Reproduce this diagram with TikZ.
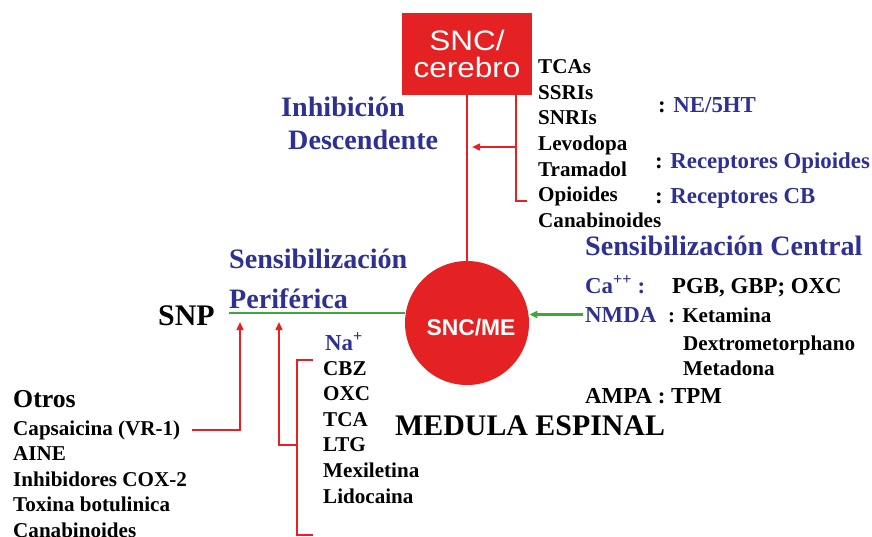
\documentclass[tikz,border=0pt]{standalone}
\usepackage{fontspec}
\setmainfont{Liberation Serif}
\setsansfont{Liberation Sans}
\newfontfamily\boxfont{Liberation Sans}[FakeStretch=1.12]
\usepackage{xcolor}
\usetikzlibrary{arrows.meta,calc}
\definecolor{snred}{RGB}{228,34,36}
\definecolor{snblue}{RGB}{46,49,146}
\definecolor{sngreen}{RGB}{62,168,62}
\tikzstyle{drug}=[font=\fontsize{18}{21}\selectfont\bfseries, anchor=base west, inner sep=0pt]
\tikzstyle{recep}=[font=\fontsize{19.5}{23}\selectfont\bfseries, anchor=base west, inner sep=0pt]
\tikzstyle{heading}=[font=\fontsize{24}{28}\selectfont\bfseries, text=snblue, anchor=base west, inner sep=0pt]
\tikzstyle{bigtext}=[font=\fontsize{25.5}{30}\selectfont\bfseries, anchor=base west, inner sep=0pt]
\tikzstyle{redline}=[snred, line width=1.6pt]
\tikzstyle{redarrow}=[redline, -{Triangle[length=7pt,width=6pt]}]
\tikzstyle{greenline}=[sngreen, line width=2pt]
\begin{document}
\begin{tikzpicture}[x=0.03cm, y=-0.03cm]
	\useasboundingbox (0,0) rectangle (872,537);
	\node[fill=snred, minimum width=3.9cm, minimum height=2.46cm, inner sep=0pt, text=white, align=center, font=\fontsize{24}{23.8}\selectfont\boxfont] (brain) at (467,54) {SNC/\\cerebro};
	\node[circle, fill=snred, minimum size=3.72cm, inner sep=0pt] (me) at (467,323) {};
	\node[text=white, font=\fontsize{19.5}{22}\selectfont\sffamily\bfseries] (meL) at (471,327) {SNC/ME};
	\foreach \d [count=\i from 0] in {TCAs,SSRIs,SNRIs,Levodopa,Tramadol,Opioides,Canabinoides}
		\node[drug] (top\i) at (538,74+25.5*\i) {\d};
	\node[recep] (ne) at (658,113) {: \textcolor{snblue}{NE/5HT}};
	\node[recep] (rop) at (655,168) {: \textcolor{snblue}{Receptores Opioides}};
	\node[recep] (rcb) at (655,203) {: \textcolor{snblue}{Receptores CB}};
	\node[heading] (inh) at (281,117) {Inhibición};
	\node[heading] (desc) at (288,150) {Descendente};
	\node[heading] (sens) at (229,268) {Sensibilización};
	\node[heading] (peri) at (229,308) {Periférica};
	\node[heading] (scen) at (585,255) {Sensibilización Central};
	\node[recep, text=snblue] (ca) at (585,293) {Ca\textsuperscript{++} :};
	\node[recep] (pgb) at (672,293) {PGB, GBP; OXC};
	\node[recep, text=snblue] (nmda) at (585,322) {NMDA};
	\node[drug] (ket) at (668,322) {: Ketamina};
	\node[drug] (dex) at (683,350) {Dextrometorphano};
	\node[drug] (met) at (683,375) {Metadona};
	\node[recep] (ampa) at (585,403) {AMPA : TPM};
	\node[recep, text=snblue] (na) at (325,350) {Na\textsuperscript{+}};
	\foreach \d [count=\i from 0] in {CBZ,OXC,TCA,LTG,Mexiletina,Lidocaina}
		\node[drug] (na\i) at (323,375+25.6*\i) {\d};
	\node[bigtext] (med) at (395,435) {MEDULA ESPINAL};
	\node[bigtext] (snp) at (158,325) {SNP};
	\node[font=\fontsize{22}{26}\selectfont\bfseries, anchor=base west, inner sep=0pt] (otros) at (13,407) {Otros};
	\foreach \d [count=\i from 0] in {Capsaicina (VR-1),AINE,Inhibidores COX-2,Toxina botulinica,Canabinoides}
		\node[drug] (ot\i) at (13,435+25.5*\i) {\d};
	\coordinate (tb) at (516,95);
	\coordinate (tbe) at (527,201);
	\coordinate (tm) at (516,147);
	\coordinate (tmt) at (472,147);
	\coordinate (snpl) at (229,313);
	\coordinate (a1) at (240,322);
	\coordinate (a2) at (279,322);
	\coordinate (nat) at (313,360);
	\coordinate (nab) at (313,535);
	\coordinate (nam) at (297,445);
	\draw[redline] (brain) -- (me);
	\draw[redline] (tb) |- (tbe);
	\draw[redarrow] (tm) -- (tmt);
	\draw[greenline] (snpl) -- (snpl -| me.west);
	\draw[greenline, -{Triangle[length=7pt,width=6pt]}] ([xshift=-2pt]nmda.west) -- (nmda.west -| me.east);
	\draw[redarrow] ([xshift=0.36cm]ot0.east) -| (a1);
	\draw[redline] (nat) -- ++(-16,0) |- (nab);
	\draw[redarrow] (nam) -| (a2);
\end{tikzpicture}
\end{document}
